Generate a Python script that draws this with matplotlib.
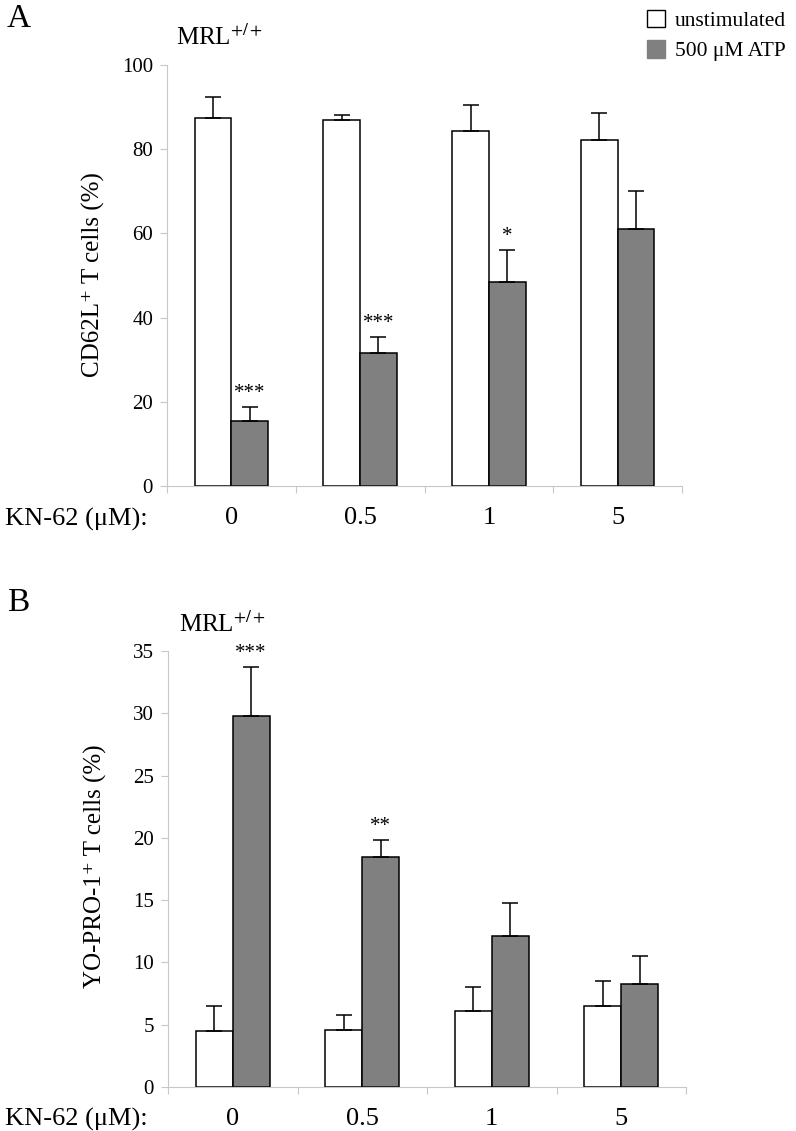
import numpy as np
import matplotlib.pyplot as plt
import matplotlib as mpl
from matplotlib.patches import Patch

mpl.rcParams['font.family'] = ['Liberation Serif', 'DejaVu Serif']
mpl.rcParams['mathtext.fontset'] = 'stix'

doses = ['0', '0.5', '1', '5']

# panel A: CD62L+ T cells (%)
a_unstim = [87.5, 87.0, 84.3, 82.3]
a_unstim_err = [5.0, 1.2, 6.2, 6.4]
a_atp = [15.5, 31.5, 48.5, 61.0]
a_atp_err = [3.2, 3.8, 7.5, 9.1]
a_stars = ['***', '***', '*', '']

# panel B: YO-PRO-1+ T cells (%)
b_unstim = [4.5, 4.6, 6.1, 6.5]
b_unstim_err = [2.0, 1.2, 1.9, 2.0]
b_atp = [29.8, 18.5, 12.1, 8.3]
b_atp_err = [3.9, 1.3, 2.7, 2.2]
b_stars = ['***', '**', '', '']

W, H = 796, 1131
fig = plt.figure(figsize=(W / 100, H / 100), dpi=100)
axA = fig.add_axes([167 / W, 1 - 486 / H, 515 / W, 421 / H])
axB = fig.add_axes([168 / W, 1 - 1087 / H, 518 / W, 436 / H])

gray = '#808080'
axis_gray = '#c8c8c8'
bw = 0.285


def draw_panel(ax, unstim, unstim_err, atp, atp_err, stars, ymax, ystep):
    x = np.arange(len(doses))
    ax.bar(x - bw / 2, unstim, bw, color='white', edgecolor='black', linewidth=1.1, zorder=2)
    ax.bar(x + bw / 2, atp, bw, color=gray, edgecolor='black', linewidth=1.1, zorder=2)
    z = np.zeros(len(x))
    ax.errorbar(x - bw / 2, unstim, yerr=[z, unstim_err], fmt='none', ecolor='black',
                elinewidth=1.1, capsize=5.5, capthick=1.1, zorder=3)
    ax.errorbar(x + bw / 2, atp, yerr=[z, atp_err], fmt='none', ecolor='black',
                elinewidth=1.1, capsize=5.5, capthick=1.1, zorder=3)
    for xi, v, e, s in zip(x, atp, atp_err, stars):
        if s:
            ax.annotate(s, (xi + bw / 2, v + e), xytext=(0, 10), textcoords='offset points',
                        ha='center', va='center', fontsize=15)
    ax.set_xlim(-0.5, len(doses) - 0.5)
    ax.set_ylim(0, ymax)
    ax.set_yticks(np.arange(0, ymax + 0.1, ystep))
    ax.set_xticks(x)
    ax.set_xticklabels(doses, fontsize=19)
    ax.set_xticks(np.arange(-0.5, len(doses), 1), minor=True)
    ax.tick_params(axis='x', which='major', length=0, pad=15)
    ax.tick_params(axis='x', which='minor', length=5, color=axis_gray, width=0.8)
    ax.tick_params(axis='y', length=5, color=axis_gray, width=0.8, labelsize=15, pad=5)
    for side in ['top', 'right']:
        ax.spines[side].set_visible(False)
    for side in ['left', 'bottom']:
        ax.spines[side].set_color(axis_gray)
        ax.spines[side].set_linewidth(0.8)


draw_panel(axA, a_unstim, a_unstim_err, a_atp, a_atp_err, a_stars, 100, 20)
draw_panel(axB, b_unstim, b_unstim_err, b_atp, b_atp_err, b_stars, 35, 5)

fig.text(93 / W, 1 - 275 / H, 'CD62L⁺ T cells (%)', rotation=90, ha='center', va='center', fontsize=18)
fig.text(95 / W, 1 - 866 / H, 'YO-PRO-1⁺ T cells (%)', rotation=90, ha='center', va='center', fontsize=18)

fig.text(5 / W, 1 - 519 / H, 'KN-62 (μM):', ha='left', va='center', fontsize=19)
fig.text(5 / W, 1 - 1119 / H, 'KN-62 (μM):', ha='left', va='center', fontsize=19)

fig.text(7 / W, 1 - 19 / H, 'A', ha='left', va='center', fontsize=24)
fig.text(7 / W, 1 - 603 / H, 'B', ha='left', va='center', fontsize=24)
fig.text(176 / W, 1 - 37 / H, 'MRL$^{+/+}$', ha='left', va='center', fontsize=18)
fig.text(179 / W, 1 - 624 / H, 'MRL$^{+/+}$', ha='left', va='center', fontsize=18)

handles = [Patch(facecolor='white', edgecolor='black', linewidth=1.0, label='unstimulated'),
           Patch(facecolor=gray, edgecolor=gray, label='500 μM ATP')]
fig.legend(handles=handles, loc='upper right', bbox_to_anchor=(1.0, 1.0), frameon=False,
           fontsize=15.5, handlelength=0.85, handleheight=0.85, handletextpad=0.45,
           labelspacing=0.45, borderaxespad=0.05)

fig.savefig('out.png', dpi=100)
